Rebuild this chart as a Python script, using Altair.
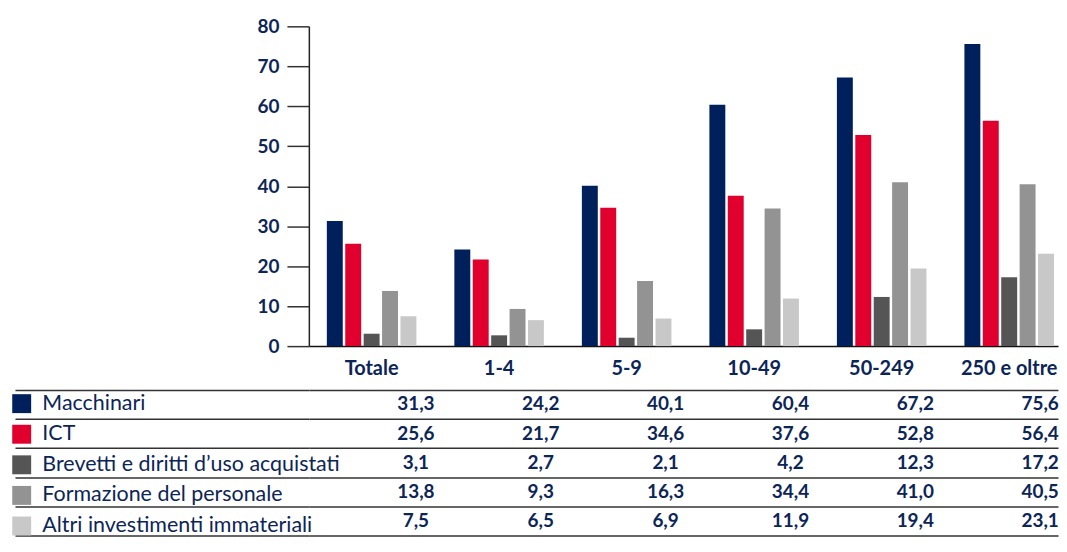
import altair as alt
import pandas as pd

categories = ["Totale", "1-4", "5-9", "10-49", "50-249", "250 e oltre"]
series = [
    "Macchinari",
    "ICT",
    "Brevetti e diritti d\u2019uso acquistati",
    "Formazione del personale",
    "Altri investimenti immateriali",
]
macchinari = [31.3, 24.2, 40.1, 60.4, 67.2, 75.6]
ict = [25.6, 21.7, 34.6, 37.6, 52.8, 56.4]
brevetti = [3.1, 2.7, 2.1, 4.2, 12.3, 17.2]
formazione = [13.8, 9.3, 16.3, 34.4, 41.0, 40.5]
altri = [7.5, 6.5, 6.9, 11.9, 19.4, 23.1]
y_ticks = [0, 10, 20, 30, 40, 50, 60, 70, 80]
colors = ["#00205b", "#e1002d", "#555555", "#939393", "#c8c8c8"]

values = [macchinari, ict, brevetti, formazione, altri]
rows = []
for s, vals in zip(series, values):
    for c, v in zip(categories, vals):
        rows.append({"categoria": c, "serie": s, "valore": v,
                     "etichetta": f"{v:.1f}".replace(".", ",")})
df = pd.DataFrame(rows)

NAVY = "#0c2557"
FONT = "Lato"
W = 752

x_scale = alt.Scale(domain=categories, paddingInner=0.2782, paddingOuter=0.0766, align=0.857)
color_scale = alt.Scale(domain=series, range=colors)

bars = alt.Chart(df).mark_bar().encode(
    x=alt.X("categoria:N", sort=categories, scale=x_scale,
            axis=alt.Axis(title=None, labelAngle=0, labelFont=FONT, labelFontSize=20,
                          labelFontWeight="bold", labelColor=NAVY, ticks=False, tickSize=0,
                          labelPadding=12, domainColor="#111111", domainWidth=1.5)),
    xOffset=alt.XOffset("serie:N", sort=series,
                        scale=alt.Scale(domain=series, paddingInner=0.135, paddingOuter=0.0675)),
    y=alt.Y("valore:Q", scale=alt.Scale(domain=[0, 80]),
            axis=alt.Axis(title=None, values=y_ticks, tickSize=22, tickColor="#333333",
                          tickWidth=1.5, domainColor="#222222", domainWidth=1.5,
                          labelFont=FONT, labelFontSize=19, labelFontWeight="bold",
                          labelColor=NAVY, labelPadding=8, grid=False)),
    color=alt.Color("serie:N", sort=series, scale=color_scale, legend=None),
).properties(width=W, height=321)

y_table = alt.Y("serie:N", sort=series,
                scale=alt.Scale(domain=series, paddingInner=0, paddingOuter=0),
                axis=alt.Axis(title=None, labels=False, tickBand="extent", tickSize=295,
                              tickColor="#333333", tickWidth=1.5, grid=True,
                              gridColor="#333333", gridWidth=1.5, domain=False))

table_text = alt.Chart(df).mark_text(font=FONT, fontSize=19, fontWeight="bold", color=NAVY).encode(
    x=alt.X("categoria:N", sort=categories, scale=x_scale, axis=None),
    y=y_table,
    text="etichetta:N",
)

swatch = alt.Chart(df).mark_square(size=0, opacity=1).encode(
    x=alt.X("categoria:N", sort=categories, scale=x_scale, axis=None),
    y=y_table,
    color=alt.Color("serie:N", sort=series, scale=color_scale,
                    legend=alt.Legend(title=None, orient="none", legendX=-299, legendY=3,
                                      symbolType="square", symbolSize=361, symbolStrokeWidth=0,
                                      labelFont=FONT, labelFontSize=21.5, labelColor=NAVY,
                                      labelOffset=10, labelLimit=500, rowPadding=7.7,
                                      padding=0, direction="vertical")),
)

table = alt.layer(table_text, swatch).properties(width=W, height=146)

chart = (
    alt.vconcat(bars, table, spacing=11)
    .resolve_scale(color="independent")
    .properties(padding={"left": 3, "top": 8.4, "right": 0, "bottom": 0})
    .configure(font=FONT)
    .configure_view(stroke="transparent", strokeWidth=0)
)

chart.save("out.html", embed_options={"renderer": "svg", "actions": False})
